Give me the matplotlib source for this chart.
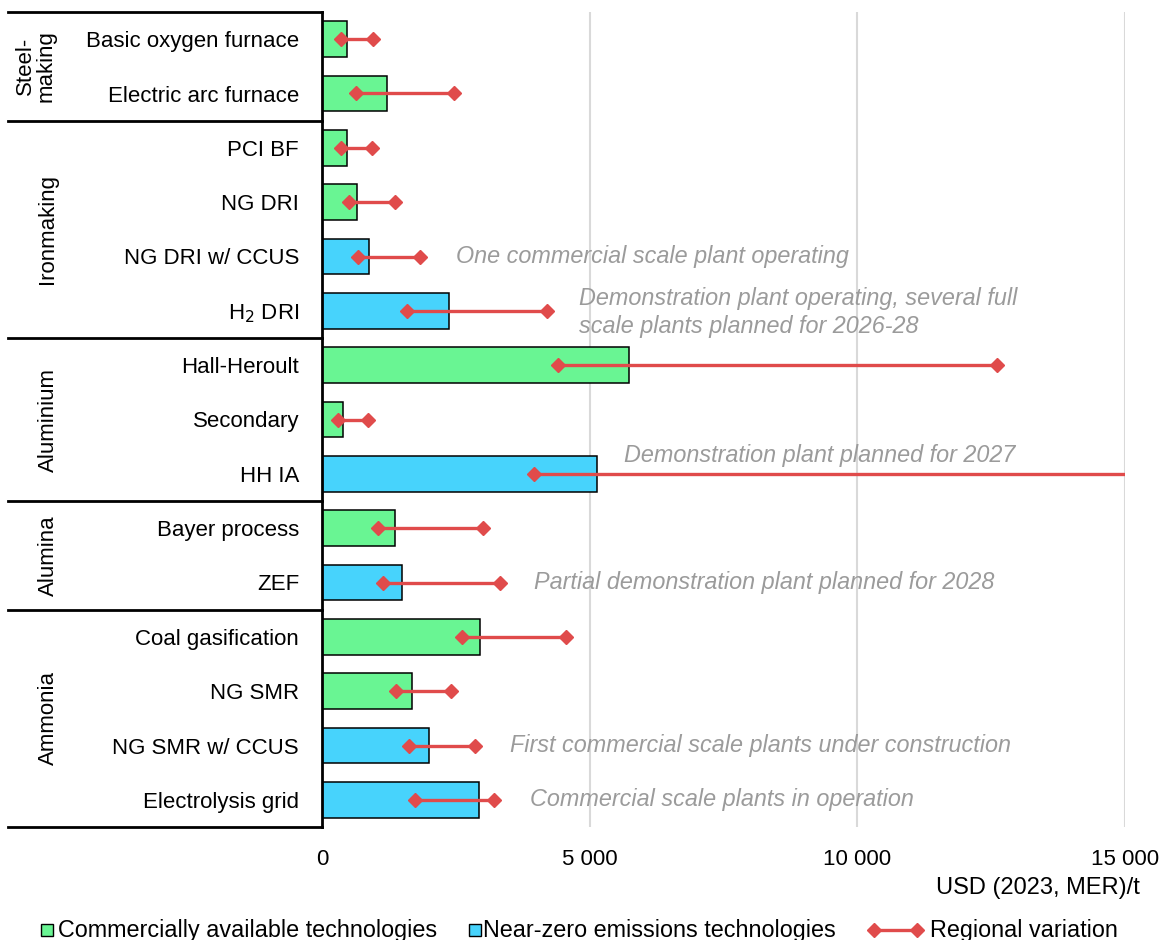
import matplotlib
matplotlib.use("Agg")
import matplotlib.pyplot as plt
from matplotlib.lines import Line2D
from matplotlib.patches import Rectangle

plt.rcParams['font.family'] = ['Liberation Sans', 'DejaVu Sans']

# --- data (USD (2023, MER)/t)
techs = ["Basic oxygen furnace", "Electric arc furnace",
         "PCI BF", "NG DRI", "NG DRI w/ CCUS", "H$_2$ DRI",
         "Hall-Heroult", "Secondary", "HH IA",
         "Bayer process", "ZEF",
         "Coal gasification", "NG SMR", "NG SMR w/ CCUS", "Electrolysis grid"]
cost = [470, 1215, 470, 650, 880, 2375, 5740, 390, 5140, 1365, 1500, 2950, 1680, 2000, 2930]
reg_low = [355, 635, 355, 505, 673, 1590, 4410, 300, 3960, 1045, 1140, 2620, 1380, 1625, 1740]
reg_high = [953, 2470, 935, 1365, 1830, 4205, 12600, 860, 16500, 3010, 3330, 4560, 2410, 2860, 3215]
near_zero = [0, 0, 0, 0, 1, 1, 0, 0, 1, 0, 1, 0, 0, 1, 1]

groups = ["Steel-\nmaking", "Ironmaking", "Aluminium", "Alumina", "Ammonia"]
group_sizes = [2, 4, 3, 2, 4]

notes = ["One commercial scale plant operating",
         "Demonstration plant operating, several full\nscale plants planned for 2026-28",
         "Demonstration plant planned for 2027",
         "Partial demonstration plant planned for 2028",
         "First commercial scale plants under construction",
         "Commercial scale plants in operation"]
note_rows = [4, 5, 8, 10, 13, 14]
note_x = [2500, 4800, 5640, 3960, 3510, 3890]
note_dy = [0, 0.03, -0.33, 0, 0, 0]

GREEN = '#69F593'
BLUE = '#47D3FC'
RED = '#E04B4B'
GREY = '#9B9B9B'

fig = plt.figure(figsize=(11.63, 9.40), dpi=100)
ax = fig.add_axes([322/1163, 1-827/940, 803/1163, 815/940])

rows = list(range(len(techs)))
colors = [BLUE if n else GREEN for n in near_zero]
ax.barh(rows, cost, height=0.66, color=colors, edgecolor='black', linewidth=1.1, zorder=2)
for r, lo, hi in zip(rows, reg_low, reg_high):
    ax.plot([lo, hi], [r, r], color=RED, lw=2.4, marker='D', markersize=7.5, zorder=3)

for txt, r, x, dy in zip(notes, note_rows, note_x, note_dy):
    ax.text(x, r + dy, txt, fontsize=16.8, style='italic', color=GREY,
            ha='left', va='center', linespacing=1.3, zorder=4)

ax.set_xlim(0, 15000)
ax.set_ylim(len(techs) - 0.5, -0.5)
ax.set_xticks([0, 5000, 10000, 15000])
ax.set_xticklabels(["0", "5 000", "10 000", "15 000"], fontsize=16)
ax.set_yticks(rows)
ax.set_yticklabels(techs, fontsize=16)
ax.tick_params(axis='y', length=0, pad=16.5)
ax.tick_params(axis='x', length=0, pad=16)
ax.grid(axis='x', color='#D9D9D9', lw=1.5, zorder=0)
for s in ['top', 'right', 'bottom']:
    ax.spines[s].set_visible(False)
ax.spines['left'].set_linewidth(2)
ax.spines['left'].set_zorder(5)

# group brackets on the left
x0 = (8 - 322) / 803
start = 0
bounds = [0]
for g, n in zip(groups, group_sizes):
    start += n
    bounds.append(start)
for b in bounds:
    yb = b - 0.5
    ax.add_line(Line2D([x0, 0], [yb, yb], color='black', lw=2,
                       transform=ax.get_yaxis_transform(), clip_on=False))
for i, g in enumerate(groups):
    yc = (bounds[i] + bounds[i + 1] - 1) / 2
    xg = (36 - 322) / 803 if "\n" in g else (48 - 322) / 803
    ax.text(xg, yc, g, transform=ax.get_yaxis_transform(), rotation=90,
            ha='center', va='center', fontsize=16, linespacing=1.0)

fig.text(1140/1163, 1-888/940, "USD (2023, MER)/t", ha='right', va='center', fontsize=17)

# legend along the bottom
yl = 1 - 930/940
sq_w, sq_h = 12/1163, 12/940
fig.add_artist(Rectangle((41/1163, yl - sq_h/2), sq_w, sq_h, facecolor=GREEN, edgecolor='black', lw=1))
fig.text(58/1163, yl, "Commercially available technologies", ha='left', va='center', fontsize=16.8)
fig.add_artist(Rectangle((469/1163, yl - sq_h/2), sq_w, sq_h, facecolor=BLUE, edgecolor='black', lw=1))
fig.text(483/1163, yl, "Near-zero emissions technologies", ha='left', va='center', fontsize=16.8)
fig.add_artist(Line2D([874/1163, 917/1163], [yl, yl], color=RED, lw=2.4, marker='D', markersize=7.5))
fig.text(930/1163, yl, "Regional variation", ha='left', va='center', fontsize=16.8)

fig.savefig("out.png", dpi=100)
